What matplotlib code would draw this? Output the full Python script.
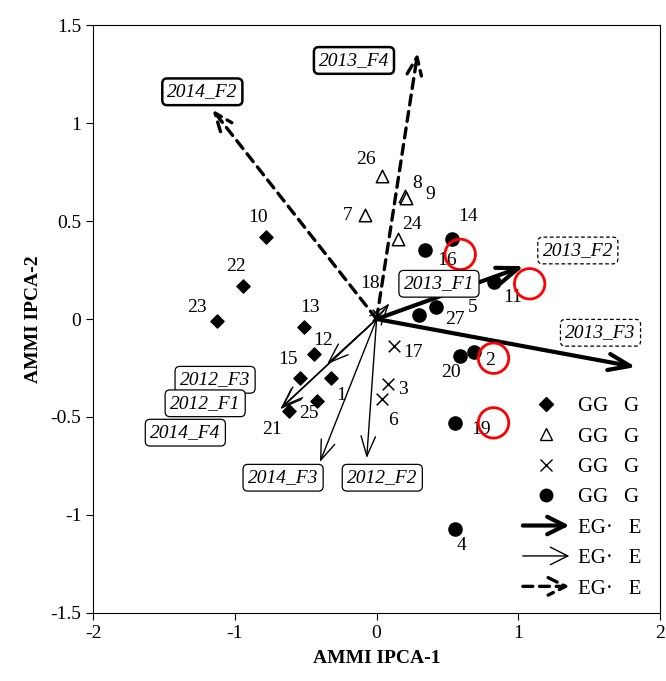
import matplotlib
matplotlib.use('Agg')
import matplotlib.pyplot as plt
from matplotlib.lines import Line2D
from matplotlib.patches import FancyArrowPatch
from matplotlib.legend_handler import HandlerBase

plt.rcParams['font.family'] = ['Liberation Serif', 'DejaVu Serif']
plt.rcParams['font.size'] = 13

# genotype scores (IPCA-1, IPCA-2), by group
g1_ids = ['10', '22', '23', '13', '12', '15', '1', '25', '21']
g1_x = [-0.78, -0.94, -1.13, -0.51, -0.44, -0.54, -0.32, -0.42, -0.62]
g1_y = [0.42, 0.17, -0.01, -0.04, -0.18, -0.30, -0.30, -0.42, -0.47]

g2_ids = ['26', '8', '9', '7', '24']
g2_x = [0.035, 0.20, 0.21, -0.085, 0.15]
g2_y = [0.73, 0.63, 0.62, 0.53, 0.41]

g3_ids = ['17', '3', '6', '18']
g3_x = [0.12, 0.08, 0.04, 0.01]
g3_y = [-0.14, -0.33, -0.41, 0.02]

g4_ids = ['14', '16', '11', '5', '27', '20', '2', '19', '4']
g4_x = [0.53, 0.34, 0.83, 0.42, 0.30, 0.59, 0.69, 0.55, 0.55]
g4_y = [0.41, 0.35, 0.19, 0.06, 0.02, -0.19, -0.17, -0.53, -1.07]

# environment vectors
env_thick = ['2013_F2', '2013_F3']
env_thick_x = [1.04, 1.83]
env_thick_y = [0.27, -0.245]

env_thin = ['2013_F1', '2012_F3', '2012_F1', '2014_F4', '2014_F3', '2012_F2']
env_thin_x = [0.09, -0.35, -0.67, -0.68, -0.40, -0.07]
env_thin_y = [0.08, -0.23, -0.45, -0.46, -0.73, -0.71]

env_dash = ['2014_F2', '2013_F4']
env_dash_x = [-1.16, 0.29]
env_dash_y = [1.07, 1.36]

# red circled genotypes
red_x = [0.59, 1.08, 0.825, 0.825]
red_y = [0.33, 0.18, -0.20, -0.53]

# label placements
lab_off = {'10': (-6, 14), '22': (-5, 14), '23': (-14, 10), '13': (4, 14), '12': (6, 10),
           '15': (-9, 13), '1': (7, -13), '25': (-6, -9), '21': (-12, -13),
           '26': (-11, 12), '8': (9, 9), '9': (17, 2), '7': (-12, 0), '24': (10, 10),
           '17': (14, -4), '3': (11, -4), '6': (8, -15), '18': (-6, 23),
           '14': (12, 16), '16': (16, -7), '11': (13, -11), '5': (26, 0), '27': (26, -3),
           '20': (-7, -12), '2': (11, -6), '19': (19, -5), '4': (5, -12)}
box_pos = {'2014_F2': (-1.23, 1.16), '2013_F4': (-0.16, 1.32), '2013_F2': (1.42, 0.35),
           '2013_F3': (1.58, -0.07), '2013_F1': (0.44, 0.18), '2012_F3': (-1.14, -0.31),
           '2012_F1': (-1.21, -0.43), '2014_F4': (-1.35, -0.58), '2014_F3': (-0.66, -0.81),
           '2012_F2': (0.04, -0.81)}


class HandlerArrow(HandlerBase):
    def create_artists(self, legend, orig, xd, yd, w, h, fs, trans):
        y = h / 2 - yd
        p = FancyArrowPatch((-xd, y), (-xd + w, y), arrowstyle=orig.get_arrowstyle(),
                            mutation_scale=orig.get_mutation_scale(), lw=orig.get_linewidth(),
                            ls=orig.get_linestyle(), color='black', transform=trans)
        return [p]


fig = plt.figure(figsize=(6.66, 6.81), dpi=100)
ax = fig.add_axes([0.14, 0.1, 0.851, 0.863])

# vectors
def draw_vec(names, xs, ys, lw, ls, hs):
    for n, x, y in zip(names, xs, ys):
        ax.annotate('', xy=(x, y), xytext=(0, 0),
                    arrowprops=dict(arrowstyle='->, head_length=%.2f, head_width=%.2f' % hs,
                                    lw=lw, ls=ls, color='black', shrinkA=0, shrinkB=0))

draw_vec(env_thick, env_thick_x, env_thick_y, 3.0, '-', (1.2, 0.45))
draw_vec(env_thin, env_thin_x, env_thin_y, 1.0, '-', (1.1, 0.4))
draw_vec(env_dash, env_dash_x, env_dash_y, 2.4, (0, (3, 2)), (1.0, 0.4))

# genotypes
ax.scatter(g1_x, g1_y, marker='D', s=45, color='black', zorder=3)
ax.scatter(g2_x, g2_y, marker='^', s=80, facecolors='white', edgecolors='black', lw=1.1, zorder=3)
ax.scatter(g3_x, g3_y, marker='x', s=70, color='black', lw=1.1, zorder=3)
ax.scatter(g4_x, g4_y, marker='o', s=90, color='black', zorder=3)

for ids, xs, ys in [(g1_ids, g1_x, g1_y), (g2_ids, g2_x, g2_y), (g3_ids, g3_x, g3_y), (g4_ids, g4_x, g4_y)]:
    for i, x, y in zip(ids, xs, ys):
        ax.annotate(i, (x, y), xytext=lab_off[i], textcoords='offset points',
                    ha='center', va='center', fontsize=14)

ax.scatter(red_x, red_y, marker='o', s=480, facecolors='none', edgecolors='red', lw=2, zorder=4)

# environment label boxes
for n in env_thick + env_thin + env_dash:
    x, y = box_pos[n]
    if n in env_thick:
        bb = dict(boxstyle='round,pad=0.25', fc='white', ec='black', lw=0.9, ls=(0, (3, 2)))
    elif n in env_dash:
        bb = dict(boxstyle='round,pad=0.25', fc='white', ec='black', lw=1.8)
    else:
        bb = dict(boxstyle='round,pad=0.25', fc='white', ec='black', lw=0.9)
    ax.text(x, y, n, ha='center', va='center', fontsize=14, style='italic', bbox=bb, zorder=5)

ax.set_xlim(-2, 2)
ax.set_ylim(-1.5, 1.5)
ax.set_xticks([-2, -1, 0, 1, 2])
ax.set_yticks([-1.5, -1, -0.5, 0, 0.5, 1, 1.5])
ax.set_xticklabels(['-2', '-1', '0', '1', '2'])
ax.set_yticklabels(['-1.5', '-1', '-0.5', '0', '0.5', '1', '1.5'])
ax.tick_params(direction='out', length=5, labelsize=14)
ax.set_xlabel('AMMI IPCA-1', fontsize=14, fontweight='bold', labelpad=6)
ax.set_ylabel('AMMI IPCA-2', fontsize=14, fontweight='bold', labelpad=6)

# legend
hd = [Line2D([], [], marker='D', ls='none', color='black', ms=7),
      Line2D([], [], marker='^', ls='none', mfc='white', mec='black', ms=9),
      Line2D([], [], marker='x', ls='none', color='black', ms=8),
      Line2D([], [], marker='o', ls='none', color='black', ms=9),
      FancyArrowPatch((0, 0), (1, 0), arrowstyle='->, head_length=0.7, head_width=0.35', mutation_scale=18, lw=3.0),
      FancyArrowPatch((0, 0), (1, 0), arrowstyle='->, head_length=0.7, head_width=0.35', mutation_scale=18, lw=1.0),
      FancyArrowPatch((0, 0), (1, 0), arrowstyle='->, head_length=0.7, head_width=0.35', mutation_scale=18, lw=2.4, ls=(0, (3, 2)))]
labs = ['GG   G'] * 4 + ['EG·   E'] * 3
ax.legend(hd, labs, loc='upper left', bbox_to_anchor=(0.72, 0.40), frameon=False,
          handlelength=2.5, handletextpad=0.3, labelspacing=0.52, fontsize=15,
          handler_map={FancyArrowPatch: HandlerArrow()})

fig.savefig('out.png', dpi=100)
